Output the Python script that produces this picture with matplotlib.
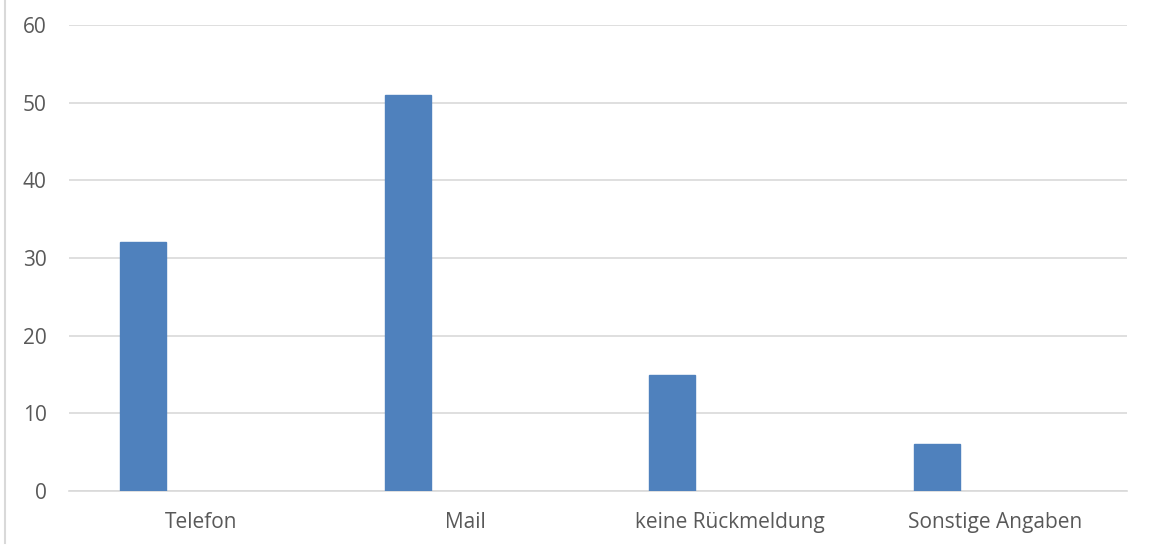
import matplotlib.pyplot as plt
from matplotlib.lines import Line2D

# Dữ liệu
categories = ['Telefon', 'Mail', 'keine Rückmeldung', 'Sonstige Angaben']
values = [32, 51, 15, 6]
yticks = [0, 10, 20, 30, 40, 50, 60]

plt.rcParams['font.family'] = ['Open Sans', 'DejaVu Sans']

fig = plt.figure(figsize=(11.5, 5.46), dpi=100)
ax = fig.add_axes([0.060, 0.1007, 0.920, 0.8535])

x = list(range(len(categories)))
bar_x = [i - 0.219 for i in x]
ax.bar(bar_x, values, width=0.174, color='#4F81BD', edgecolor='#4F81BD', zorder=3)

ax.set_xlim(-0.5, len(categories) - 0.5)
ax.set_ylim(0, 60)
ax.set_yticks(yticks)
ax.set_xticks(x)
ax.set_xticklabels(categories)
ax.yaxis.grid(True, color='#D9D9D9', linewidth=1.2, zorder=0)
ax.tick_params(axis='both', length=0, labelsize=15, colors='#595959')
ax.tick_params(axis='x', pad=15)
ax.tick_params(axis='y', pad=16)
for s in ['top', 'right', 'left']:
    ax.spines[s].set_visible(False)
ax.spines['bottom'].set_color('#D9D9D9')
ax.spines['bottom'].set_linewidth(1.2)

# Viền trái
fig.add_artist(Line2D([5 / 1150, 5 / 1150], [0.005, 1], color='#D9D9D9', linewidth=1.5))

plt.savefig('out.png', dpi=100)
